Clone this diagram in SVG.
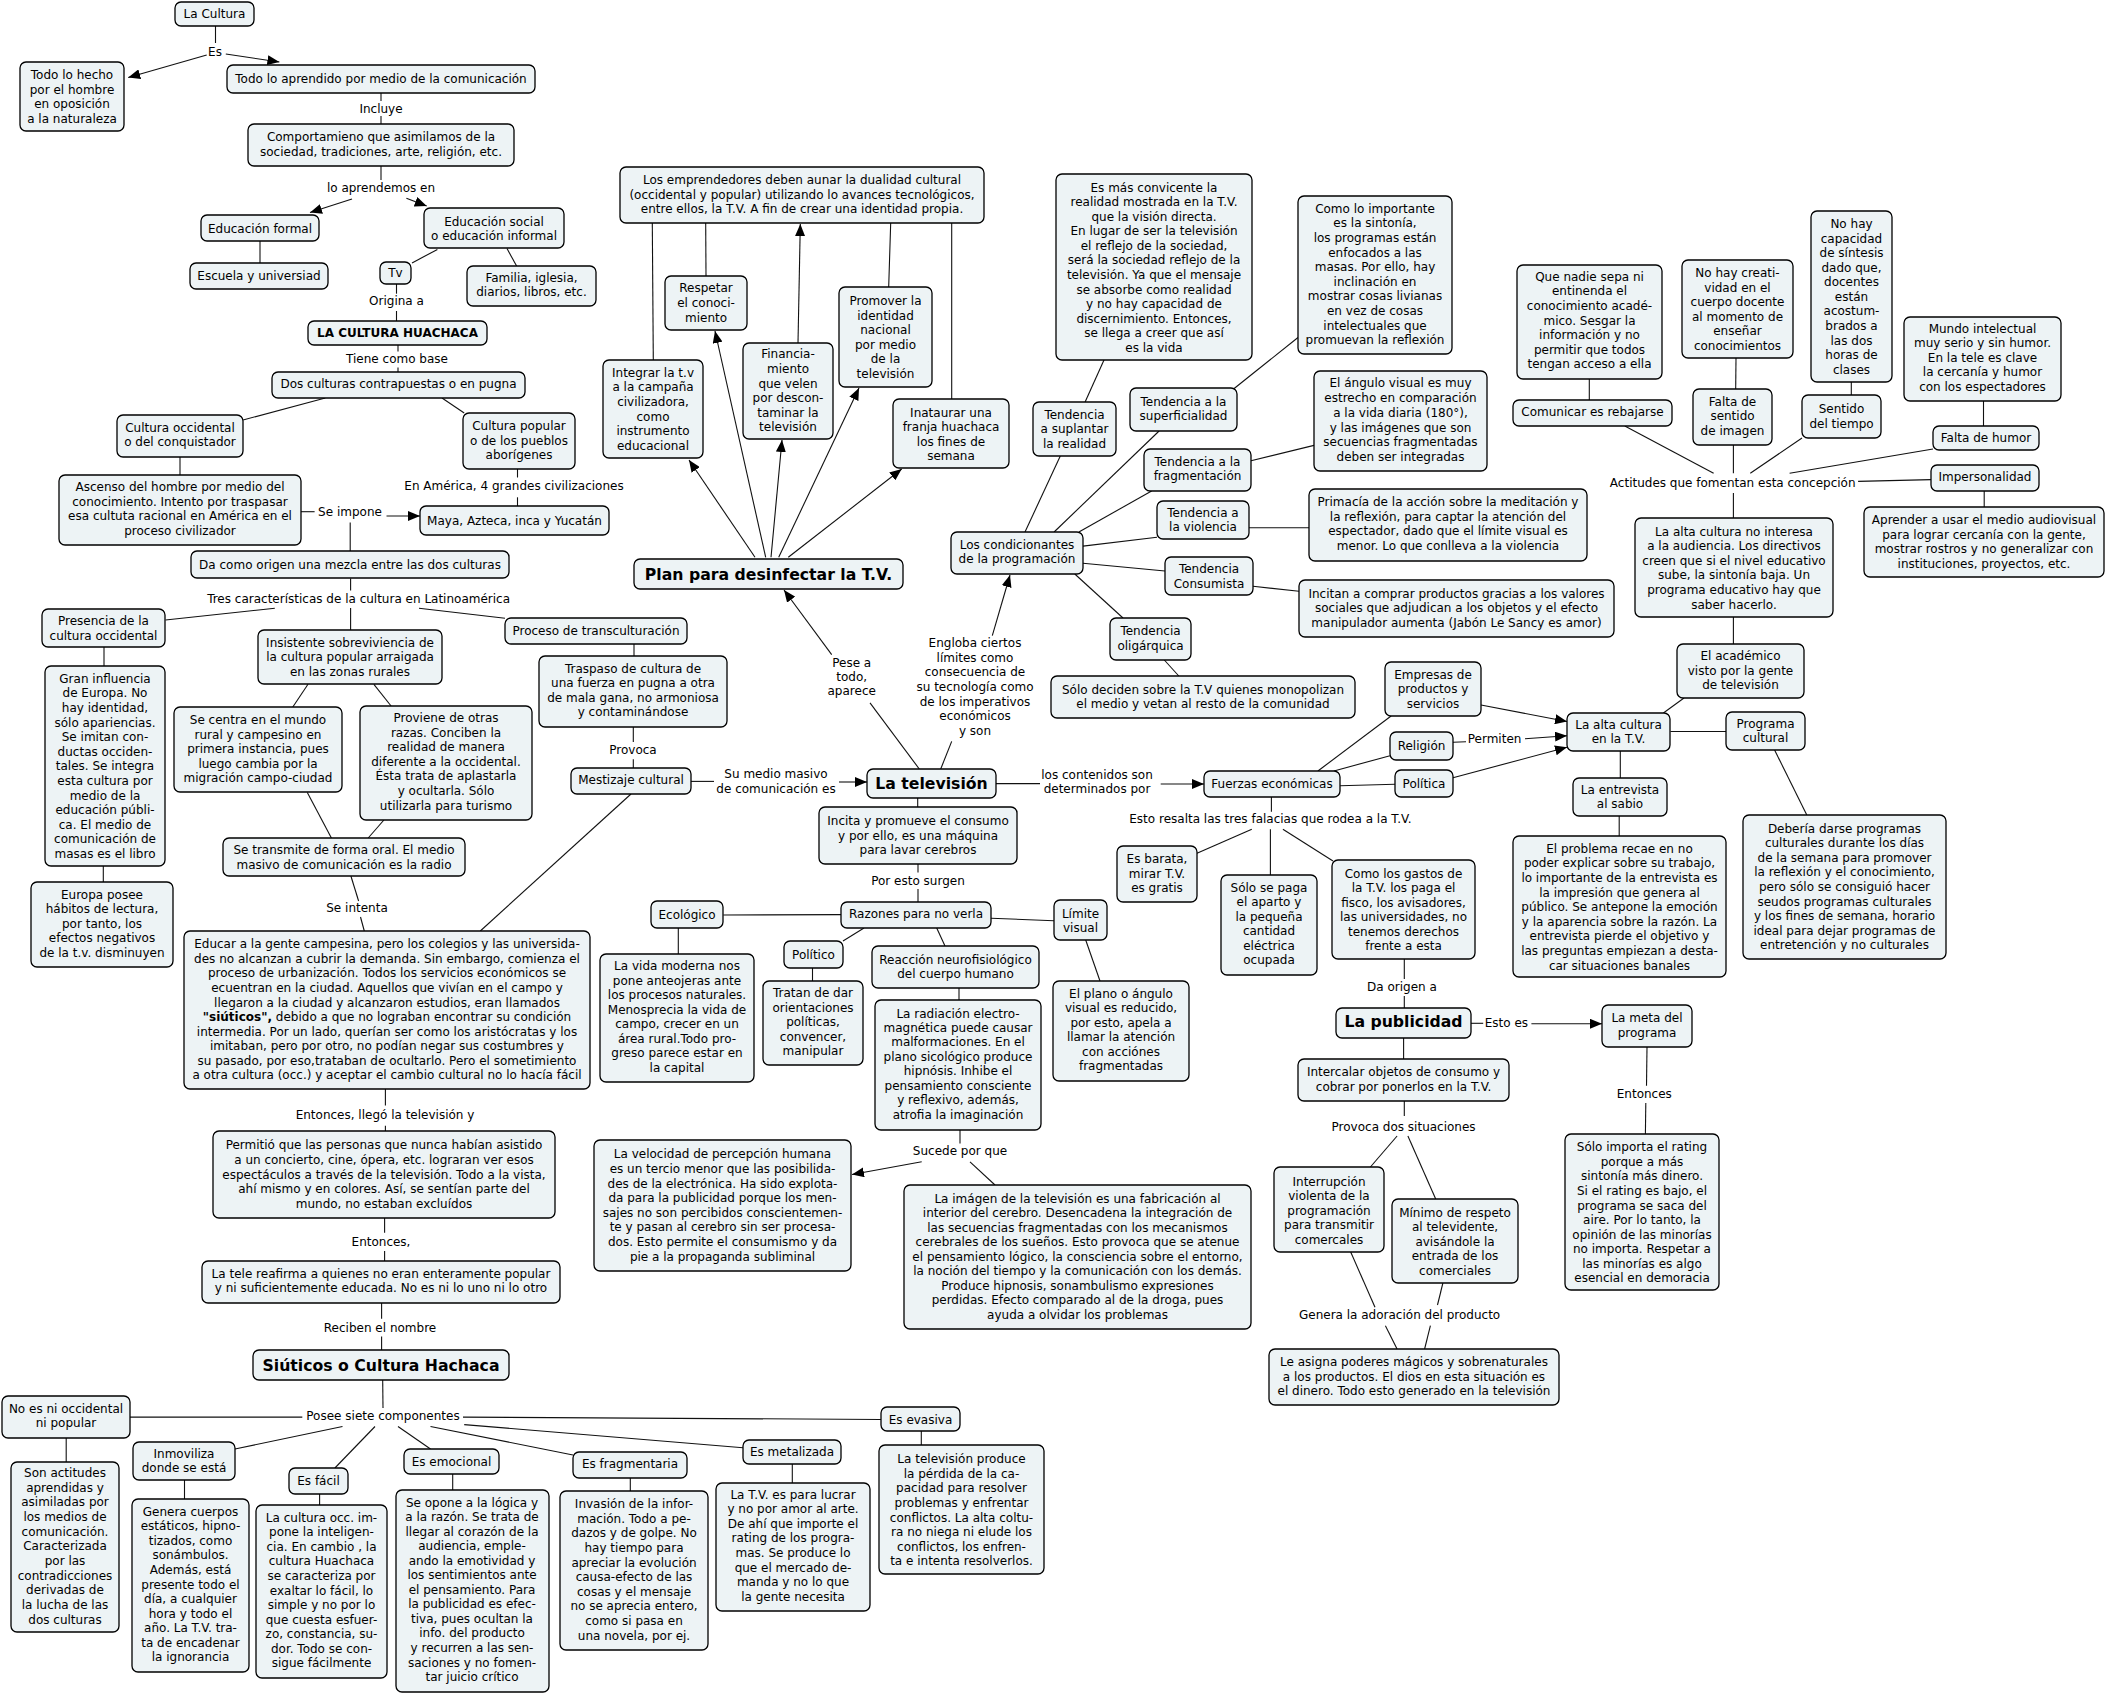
<svg xmlns="http://www.w3.org/2000/svg" width="2107" height="1694" viewBox="0 0 2107 1694">
<defs>
<style>
text{font-family:"DejaVu Sans",Verdana,sans-serif;font-size:12px;fill:#000;text-anchor:middle}
.n rect{fill:#edf3f5;stroke:#000;stroke-width:1.3}
.b{font-weight:bold;font-size:15.7px}
.b12{font-weight:bold}
#conn line{stroke:#111;stroke-width:1.1;fill:none}
#conn line.a{marker-end:url(#ah)}
</style>
<marker id="ah" viewBox="0 0 12 10" refX="12" refY="5" markerWidth="12" markerHeight="10" markerUnits="userSpaceOnUse" orient="auto"><path d="M0,0 L12,5 L0,10 z" fill="#000"/></marker>
</defs>
<rect width="2107" height="1694" fill="#fff"/>
<g id="conn">
<line x1="215.5" y1="26" x2="215.5" y2="43"/>
<line class="a" x1="206.7" y1="55" x2="128.2" y2="77.5"/>
<line class="a" x1="225.8" y1="54" x2="279.4" y2="62"/>
<line x1="381" y1="93" x2="381" y2="101"/><line x1="381" y1="116" x2="381" y2="124"/>
<line x1="381" y1="166" x2="381" y2="180"/>
<line class="a" x1="352" y1="198.9" x2="310" y2="212.6"/>
<line class="a" x1="406.4" y1="198.2" x2="426.7" y2="206.1"/>
<line x1="260" y1="241" x2="260" y2="263"/>
<line x1="437.4" y1="249.4" x2="412" y2="263"/>
<line x1="507" y1="248.6" x2="516.6" y2="266"/>
<line x1="396.5" y1="284" x2="396.5" y2="293.7"/><line x1="396.5" y1="311" x2="396.5" y2="321"/>
<line x1="398" y1="345" x2="398" y2="351.4"/><line x1="398" y1="367.6" x2="398" y2="372"/>
<line x1="325.3" y1="398" x2="243" y2="420"/>
<line x1="442" y1="398" x2="464.2" y2="413"/>
<line x1="180" y1="457" x2="180" y2="475"/>
<line x1="517.5" y1="469" x2="517.5" y2="477.5"/><line x1="517.5" y1="497.3" x2="517.5" y2="506"/>
<line x1="301" y1="511.7" x2="314.6" y2="511.7"/>
<line class="a" x1="386.5" y1="516" x2="420" y2="516"/>
<line x1="350.2" y1="522.5" x2="350.2" y2="551"/>
<line x1="350.6" y1="578.6" x2="350.6" y2="590.4"/><line x1="350.6" y1="608" x2="350.6" y2="630"/>
<line x1="274.8" y1="608.2" x2="165.5" y2="620"/>
<line x1="419" y1="608.2" x2="505" y2="618.2"/>
<line x1="104" y1="647" x2="104" y2="666"/>
<line x1="103.3" y1="866" x2="103.3" y2="882"/>
<line x1="308" y1="684.3" x2="292.8" y2="707"/>
<line x1="373.9" y1="684.3" x2="391.1" y2="706"/>
<line x1="307.3" y1="792.5" x2="331.4" y2="838"/>
<line x1="383.9" y1="820" x2="368.2" y2="838"/>
<line x1="350.9" y1="876" x2="358.6" y2="901"/><line x1="360.5" y1="917" x2="364.3" y2="931"/>
<line x1="634" y1="644" x2="634" y2="656"/>
<line x1="633.3" y1="727" x2="633.3" y2="742"/><line x1="633.3" y1="759.3" x2="633.3" y2="768"/>
<line x1="631" y1="794" x2="480.3" y2="931"/>
<line x1="691" y1="781.4" x2="714" y2="781.4"/>
<line class="a" x1="839" y1="782" x2="867" y2="782"/>
<line class="a" x1="831.7" y1="654.6" x2="784" y2="590"/>
<line x1="870" y1="702.9" x2="919.3" y2="769"/>
<line x1="940.7" y1="769" x2="951.7" y2="741.4"/>
<line class="a" x1="992.3" y1="635.7" x2="1010" y2="575"/>
<line x1="996" y1="783.6" x2="1040" y2="783.6"/>
<line class="a" x1="1160.7" y1="784" x2="1204" y2="784"/>
<line x1="917.7" y1="798" x2="917.7" y2="807"/>
<line x1="918" y1="864" x2="918" y2="872.5"/><line x1="918" y1="889" x2="918" y2="902"/>
<line x1="723.3" y1="915" x2="841" y2="914.6"/>
<line x1="678.3" y1="928" x2="678.3" y2="954"/>
<line x1="864" y1="928" x2="843" y2="941"/>
<line x1="812.5" y1="968" x2="812.5" y2="981"/>
<line x1="936.7" y1="928" x2="945" y2="946"/>
<line x1="959" y1="988" x2="959" y2="1000"/>
<line x1="991" y1="918.2" x2="1054" y2="920.7"/>
<line x1="1085.7" y1="940" x2="1100" y2="981"/>
<line x1="960" y1="1130" x2="960" y2="1143.4"/>
<line class="a" x1="921.7" y1="1161.8" x2="852" y2="1174.5"/>
<line x1="970" y1="1161.8" x2="995" y2="1185"/>
<line x1="385.4" y1="1089" x2="385.4" y2="1105.5"/><line x1="385.4" y1="1125.8" x2="385.4" y2="1131"/>
<line x1="384.6" y1="1218" x2="384.6" y2="1232.7"/><line x1="384.6" y1="1251" x2="384.6" y2="1261"/>
<line x1="381.6" y1="1303" x2="381.6" y2="1318.8"/><line x1="381.6" y1="1336.5" x2="381.6" y2="1350"/>
<line x1="382.7" y1="1380" x2="383" y2="1408"/>
<line x1="302.3" y1="1417.1" x2="130" y2="1417.1"/>
<line x1="463" y1="1417.1" x2="881" y2="1419.5"/>
<line x1="464.2" y1="1424.6" x2="743" y2="1447.8"/>
<line x1="430.5" y1="1426.5" x2="573" y2="1455"/>
<line x1="398" y1="1426.5" x2="430.5" y2="1449"/>
<line x1="375" y1="1426.5" x2="334.9" y2="1468"/>
<line x1="342.5" y1="1426.5" x2="235" y2="1449"/>
<line x1="66.2" y1="1438" x2="66.2" y2="1462"/>
<line x1="184.5" y1="1480" x2="184.5" y2="1499"/>
<line x1="319.6" y1="1494" x2="319.6" y2="1505"/>
<line x1="452.7" y1="1474" x2="452.7" y2="1490"/>
<line x1="630.3" y1="1478" x2="630.3" y2="1491"/>
<line x1="792.3" y1="1464" x2="792.3" y2="1483"/>
<line x1="921.3" y1="1431" x2="921.3" y2="1445"/>
<line class="a" x1="755" y1="557.3" x2="689" y2="460"/>
<line class="a" x1="765.7" y1="557.3" x2="715" y2="331"/>
<line class="a" x1="771" y1="557.3" x2="782" y2="440"/>
<line class="a" x1="778.7" y1="557.3" x2="859" y2="388"/>
<line class="a" x1="788.3" y1="557.3" x2="901.7" y2="469"/>
<line x1="652.3" y1="223" x2="653.3" y2="360"/>
<line x1="705.7" y1="223" x2="706" y2="276"/>
<line class="a" x1="798" y1="343" x2="800.3" y2="224"/>
<line x1="890.7" y1="223" x2="888.7" y2="287"/>
<line x1="951.7" y1="223" x2="951.7" y2="399"/>
<line x1="1104" y1="360" x2="1085.1" y2="402"/>
<line x1="1025" y1="532" x2="1060.3" y2="456"/>
<line x1="1054.1" y1="532" x2="1159.1" y2="431"/>
<line x1="1078.9" y1="532" x2="1151.6" y2="491"/>
<line x1="1083" y1="546.1" x2="1157" y2="537.3"/>
<line x1="1083" y1="563.3" x2="1165" y2="571"/>
<line x1="1074.8" y1="574" x2="1123" y2="618"/>
<line x1="1233.2" y1="389.2" x2="1298" y2="337.5"/>
<line x1="1251" y1="460.8" x2="1314" y2="445.4"/>
<line x1="1249" y1="527.7" x2="1309" y2="527.7"/>
<line x1="1253" y1="586.3" x2="1299" y2="591.3"/>
<line x1="1164.3" y1="660" x2="1178.8" y2="676"/>
<line x1="1317.9" y1="771" x2="1391.1" y2="716"/>
<line class="a" x1="1481" y1="705" x2="1567" y2="721.5"/>
<line x1="1333.9" y1="771" x2="1390" y2="755.7"/>
<line x1="1453" y1="742.3" x2="1466" y2="741.7"/>
<line class="a" x1="1525" y1="738.7" x2="1567" y2="735.7"/>
<line x1="1340" y1="785.7" x2="1395" y2="784.3"/>
<line class="a" x1="1453" y1="777.7" x2="1567" y2="747.3"/>
<line x1="1271.4" y1="797" x2="1271.4" y2="811.7"/>
<line x1="1251.8" y1="829.3" x2="1197" y2="853.3"/>
<line x1="1270.4" y1="829.3" x2="1270.4" y2="875"/>
<line x1="1282.9" y1="829.3" x2="1333" y2="861"/>
<line x1="1404.3" y1="959" x2="1404.3" y2="979"/><line x1="1404.3" y1="996" x2="1404.3" y2="1008"/>
<line x1="1471" y1="1023.3" x2="1483.2" y2="1023.3"/>
<line class="a" x1="1531.4" y1="1023.8" x2="1602" y2="1023.8"/>
<line x1="1403.6" y1="1038" x2="1403.6" y2="1059"/>
<line x1="1404.3" y1="1101" x2="1404.3" y2="1116"/>
<line x1="1397.1" y1="1136" x2="1370.4" y2="1167"/>
<line x1="1407.9" y1="1136" x2="1435.7" y2="1199"/>
<line x1="1350.7" y1="1252" x2="1375" y2="1307.3"/>
<line x1="1442.9" y1="1283" x2="1437.5" y2="1305"/>
<line x1="1385.4" y1="1325.7" x2="1397.1" y2="1349"/>
<line x1="1430.4" y1="1325.7" x2="1424.6" y2="1349"/>
<line x1="1589.3" y1="379" x2="1589.3" y2="400"/>
<line x1="1736" y1="358" x2="1735.7" y2="389"/>
<line x1="1851.3" y1="382" x2="1851.3" y2="395"/>
<line x1="1983.5" y1="401" x2="1983.5" y2="426"/>
<line x1="1713.6" y1="473.2" x2="1624.8" y2="426"/>
<line x1="1733.4" y1="473.2" x2="1733.4" y2="445"/>
<line x1="1750.3" y1="473.2" x2="1802" y2="438"/>
<line x1="1789.6" y1="473.2" x2="1933" y2="449"/>
<line x1="1858.1" y1="481.4" x2="1931" y2="479.6"/>
<line x1="1733.4" y1="492.9" x2="1733.4" y2="518"/>
<line x1="1984.2" y1="491" x2="1984.2" y2="507"/>
<line x1="1733.4" y1="617" x2="1733.4" y2="644"/>
<line x1="1684" y1="698" x2="1663.4" y2="713"/>
<line x1="1670.5" y1="731.5" x2="1726" y2="731.5"/>
<line x1="1620.3" y1="751" x2="1620.3" y2="778"/>
<line x1="1619.2" y1="816" x2="1619.2" y2="836"/>
<line x1="1774.6" y1="750" x2="1806.8" y2="815"/>
<line x1="1647" y1="1047" x2="1646.5" y2="1085.8"/><line x1="1645.8" y1="1103.1" x2="1645.4" y2="1134"/>
<g id="labels">
<text x="215" y="55.5">Es</text>
<text x="381" y="113">Incluye</text>
<text x="381" y="192">lo aprendemos en</text>
<text x="396.5" y="304.5">Origina a</text>
<text x="397" y="362.6">Tiene como base</text>
<text x="514" y="490">En América, 4 grandes civilizaciones</text>
<text x="350" y="515.7">Se impone</text>
<text x="358.6" y="603.3">Tres características de la cultura en Latinoamérica</text>
<text x="633" y="754.4">Provoca</text>
<text x="357" y="912.2">Se intenta</text>
<text x="385" y="1118.5">Entonces, llegó la televisión y</text>
<text x="381" y="1246.1">Entonces,</text>
<text x="380" y="1331.8">Reciben el nombre</text>
<text x="383" y="1419.6">Posee siete componentes</text>
<text x="776" y="778.3"><tspan x="776">Su medio masivo</tspan><tspan x="776" dy="14.3">de comunicación es</tspan></text>
<text x="851.7" y="666.9"><tspan x="851.7">Pese a</tspan><tspan x="851.7" dy="14.25">todo,</tspan><tspan x="851.7" dy="14.25">aparece</tspan></text>
<text x="975" y="647.2"><tspan x="975">Engloba ciertos</tspan><tspan x="975" dy="14.58">límites como</tspan><tspan x="975" dy="14.58">consecuencia de</tspan><tspan x="975" dy="14.58">su tecnología como</tspan><tspan x="975" dy="14.58">de los imperativos</tspan><tspan x="975" dy="14.58">económicos</tspan><tspan x="975" dy="14.58">y son</tspan></text>
<text x="918" y="884.7">Por esto surgen</text>
<text x="960" y="1154.5">Sucede por que</text>
<text x="1097" y="779"><tspan x="1097">los contenidos son</tspan><tspan x="1097" dy="14.3">determinados por</tspan></text>
<text x="1270.4" y="823">Esto resalta las tres falacias que rodea a la T.V.</text>
<text x="1494.6" y="743.3">Permiten</text>
<text x="1402" y="990.7">Da origen a</text>
<text x="1506.4" y="1027.3">Esto es</text>
<text x="1403.6" y="1131">Provoca dos situaciones</text>
<text x="1399.6" y="1319.3">Genera la adoración del producto</text>
<text x="1732.7" y="486.9">Actitudes que fomentan esta concepción</text>
<text x="1644.3" y="1098">Entonces</text>
</g>
</g>
<g id="nodes">
<g id="n1" class="n"><rect x="175" y="2" width="79" height="24" rx="6"/><text x="214.5" y="18">La Cultura</text></g>
<g id="n2" class="n"><rect x="20" y="62" width="104" height="69" rx="6"/><text x="72" y="79"><tspan x="72">Todo lo hecho</tspan><tspan x="72" dy="14.55">por el hombre</tspan><tspan x="72" dy="14.55">en oposición</tspan><tspan x="72" dy="14.55">a la naturaleza</tspan></text></g>
<g id="n3" class="n"><rect x="227" y="65" width="308" height="28" rx="6"/><text x="381" y="82.6">Todo lo aprendido por medio de la comunicación</text></g>
<g id="n4" class="n"><rect x="248" y="124" width="266" height="42" rx="6"/><text x="381" y="141"><tspan x="381">Comportamieno que asimilamos de la</tspan><tspan x="381" dy="14.55">sociedad, tradiciones, arte, religión, etc.</tspan></text></g>
<g id="n5" class="n"><rect x="201" y="215" width="118" height="26" rx="6"/><text x="260" y="232.5">Educación formal</text></g>
<g id="n6" class="n"><rect x="190" y="263" width="138" height="26" rx="6"/><text x="259" y="279.5">Escuela y universiad</text></g>
<g id="n7" class="n"><rect x="424" y="208" width="140" height="40" rx="6"/><text x="494" y="225.6"><tspan x="494">Educación social</tspan><tspan x="494" dy="14.55">o educación informal</tspan></text></g>
<g id="n8" class="n"><rect x="380" y="262" width="31" height="22" rx="6"/><text x="395.5" y="277">Tv</text></g>
<g id="n9" class="n"><rect x="467" y="266" width="129" height="40" rx="6"/><text x="531.5" y="281.8"><tspan x="531.5">Familia, iglesia,</tspan><tspan x="531.5" dy="14.55">diarios, libros, etc.</tspan></text></g>
<g id="n10" class="n"><rect x="308" y="321" width="179" height="24" rx="6"/><text class="b12" x="397.5" y="337.3">LA CULTURA HUACHACA</text></g>
<g id="n11" class="n"><rect x="272" y="372" width="253" height="26" rx="6"/><text x="398.5" y="388.1">Dos culturas contrapuestas o en pugna</text></g>
<g id="n12" class="n"><rect x="117" y="415" width="126" height="42" rx="6"/><text x="180" y="431.7"><tspan x="180">Cultura occidental</tspan><tspan x="180" dy="14.55">o del conquistador</tspan></text></g>
<g id="n13" class="n"><rect x="463" y="413" width="112" height="56" rx="6"/><text x="519" y="430"><tspan x="519">Cultura popular</tspan><tspan x="519" dy="14.55">o de los pueblos</tspan><tspan x="519" dy="14.55">aborígenes</tspan></text></g>
<g id="n14" class="n"><rect x="59" y="475" width="242" height="70" rx="6"/><text x="180" y="491.2"><tspan x="180">Ascenso del hombre por medio del</tspan><tspan x="180" dy="14.55">conocimiento. Intento por traspasar</tspan><tspan x="180" dy="14.55">esa cultuta racional en América en el</tspan><tspan x="180" dy="14.55">proceso civilizador</tspan></text></g>
<g id="n15" class="n"><rect x="420" y="506" width="189" height="29" rx="6"/><text x="514.5" y="524.5">Maya, Azteca, inca y Yucatán</text></g>
<g id="n16" class="n"><rect x="191" y="551" width="318" height="27" rx="6"/><text x="350" y="569">Da como origen una mezcla entre las dos culturas</text></g>
<g id="n17" class="n"><rect x="42" y="609" width="123" height="38" rx="6"/><text x="103.5" y="625"><tspan x="103.5">Presencia de la</tspan><tspan x="103.5" dy="14.55">cultura occidental</tspan></text></g>
<g id="n18" class="n"><rect x="505" y="618" width="182" height="26" rx="6"/><text x="596" y="635.4">Proceso de transculturación</text></g>
<g id="n19" class="n"><rect x="539" y="656" width="188" height="71" rx="6"/><text x="633" y="672.6"><tspan x="633">Traspaso de cultura de</tspan><tspan x="633" dy="14.55">una fuerza en pugna a otra</tspan><tspan x="633" dy="14.55">de mala gana, no armoniosa</tspan><tspan x="633" dy="14.55">y contaminándose</tspan></text></g>
<g id="n20" class="n"><rect x="258" y="630" width="184" height="54" rx="6"/><text x="350" y="646.9"><tspan x="350">Insistente sobreviviencia de</tspan><tspan x="350" dy="14.55">la cultura popular arraigada</tspan><tspan x="350" dy="14.55">en las zonas rurales</tspan></text></g>
<g id="n21" class="n"><rect x="45" y="666" width="120" height="200" rx="6"/><text x="105" y="682.9"><tspan x="105">Gran influencia</tspan><tspan x="105" dy="14.58">de Europa. No</tspan><tspan x="105" dy="14.58">hay identidad,</tspan><tspan x="105" dy="14.58">sólo apariencias.</tspan><tspan x="105" dy="14.58">Se imitan con-</tspan><tspan x="105" dy="14.58">ductas occiden-</tspan><tspan x="105" dy="14.58">tales. Se integra</tspan><tspan x="105" dy="14.58">esta cultura por</tspan><tspan x="105" dy="14.58">medio de la</tspan><tspan x="105" dy="14.58">educación públi-</tspan><tspan x="105" dy="14.58">ca. El medio de</tspan><tspan x="105" dy="14.58">comunicación de</tspan><tspan x="105" dy="14.58">masas es el libro</tspan></text></g>
<g id="n22" class="n"><rect x="31" y="882" width="142" height="85" rx="6"/><text x="102" y="898.6"><tspan x="102">Europa posee</tspan><tspan x="102" dy="14.58">hábitos de lectura,</tspan><tspan x="102" dy="14.58">por tanto, los</tspan><tspan x="102" dy="14.58">efectos negativos</tspan><tspan x="102" dy="14.58">de la t.v. disminuyen</tspan></text></g>
<g id="n23" class="n"><rect x="174" y="707" width="168" height="85" rx="6"/><text x="258" y="724"><tspan x="258">Se centra en el mundo</tspan><tspan x="258" dy="14.55">rural y campesino en</tspan><tspan x="258" dy="14.55">primera instancia, pues</tspan><tspan x="258" dy="14.55">luego cambia por la</tspan><tspan x="258" dy="14.55">migración campo-ciudad</tspan></text></g>
<g id="n24" class="n"><rect x="360" y="706" width="172" height="114" rx="6"/><text x="446" y="721.9"><tspan x="446">Proviene de otras</tspan><tspan x="446" dy="14.6">razas. Conciben la</tspan><tspan x="446" dy="14.6">realidad de manera</tspan><tspan x="446" dy="14.6">diferente a la occidental.</tspan><tspan x="446" dy="14.6">Ésta trata de aplastarla</tspan><tspan x="446" dy="14.6">y ocultarla. Sólo</tspan><tspan x="446" dy="14.6">utilizarla para turismo</tspan></text></g>
<g id="n25" class="n"><rect x="223" y="838" width="242" height="38" rx="6"/><text x="344" y="854"><tspan x="344">Se transmite de forma oral. El medio</tspan><tspan x="344" dy="14.55">masivo de comunicación es la radio</tspan></text></g>
<g id="n26" class="n"><rect x="184" y="931" width="406" height="158" rx="6"/><text x="387" y="948.3"><tspan x="387">Educar a la gente campesina, pero los colegios y las universida-</tspan><tspan x="387" dy="14.56">des no alcanzan a cubrir la demanda. Sin embargo, comienza el</tspan><tspan x="387" dy="14.56">proceso de urbanización. Todos los servicios económicos se</tspan><tspan x="387" dy="14.56">ecuentran en la ciudad. Aquellos que vivían en el campo y</tspan><tspan x="387" dy="14.56">llegaron a la ciudad y alcanzaron estudios, eran llamados</tspan><tspan x="387" dy="14.56"><tspan font-weight="bold">"siúticos",</tspan> debido a que no lograban encontrar su condición</tspan><tspan x="387" dy="14.56">intermedia. Por un lado, querían ser como los aristócratas y los</tspan><tspan x="387" dy="14.56">imitaban, pero por otro, no podían negar sus costumbres y</tspan><tspan x="387" dy="14.56">su pasado, por eso,trataban de ocultarlo. Pero el sometimiento</tspan><tspan x="387" dy="14.56">a otra cultura (occ.) y aceptar el cambio cultural no lo hacía fácil</tspan></text></g>
<g id="n27" class="n"><rect x="213" y="1131" width="342" height="87" rx="6"/><text x="384" y="1149.4"><tspan x="384">Permitió que las personas que nunca habían asistido</tspan><tspan x="384" dy="14.55">a un concierto, cine, ópera, etc. lograran ver esos</tspan><tspan x="384" dy="14.55">espectáculos a través de la televisión. Todo a la vista,</tspan><tspan x="384" dy="14.55">ahí mismo y en colores. Así, se sentían parte del</tspan><tspan x="384" dy="14.55">mundo, no estaban excluídos</tspan></text></g>
<g id="n28" class="n"><rect x="202" y="1261" width="358" height="42" rx="6"/><text x="381" y="1277.8"><tspan x="381">La tele reafirma a quienes no eran enteramente popular</tspan><tspan x="381" dy="14.55">y ni suficientemente educada. No es ni lo uno ni lo otro</tspan></text></g>
<g id="n29" class="n"><rect x="253" y="1350" width="256" height="30" rx="6"/><text class="b" x="381" y="1371">Siúticos o Cultura Hachaca</text></g>
<g id="n30" class="n"><rect x="2" y="1396" width="128" height="42" rx="6"/><text x="66" y="1412.5"><tspan x="66">No es ni occidental</tspan><tspan x="66" dy="14.55">ni popular</tspan></text></g>
<g id="n31" class="n"><rect x="11" y="1462" width="108" height="170" rx="6"/><text x="65" y="1477.1"><tspan x="65">Son actitudes</tspan><tspan x="65" dy="14.65">aprendidas y</tspan><tspan x="65" dy="14.65">asimiladas por</tspan><tspan x="65" dy="14.65">los medios de</tspan><tspan x="65" dy="14.65">comunicación.</tspan><tspan x="65" dy="14.65">Caracterizada</tspan><tspan x="65" dy="14.65">por las</tspan><tspan x="65" dy="14.65">contradicciones</tspan><tspan x="65" dy="14.65">derivadas de</tspan><tspan x="65" dy="14.65">la lucha de las</tspan><tspan x="65" dy="14.65">dos culturas</tspan></text></g>
<g id="n32" class="n"><rect x="133" y="1442" width="102" height="38" rx="6"/><text x="184" y="1458.3"><tspan x="184">Inmoviliza</tspan><tspan x="184" dy="14.1">donde se está</tspan></text></g>
<g id="n33" class="n"><rect x="132" y="1499" width="117" height="173" rx="6"/><text x="190.5" y="1515.9"><tspan x="190.5">Genera cuerpos</tspan><tspan x="190.5" dy="14.52">estáticos, hipno-</tspan><tspan x="190.5" dy="14.52">tizados, como</tspan><tspan x="190.5" dy="14.52">sonámbulos.</tspan><tspan x="190.5" dy="14.52">Además, está</tspan><tspan x="190.5" dy="14.52">presente todo el</tspan><tspan x="190.5" dy="14.52">día, a cualquier</tspan><tspan x="190.5" dy="14.52">hora y todo el</tspan><tspan x="190.5" dy="14.52">año. La T.V. tra-</tspan><tspan x="190.5" dy="14.52">ta de encadenar</tspan><tspan x="190.5" dy="14.52">la ignorancia</tspan></text></g>
<g id="n34" class="n"><rect x="289" y="1468" width="59" height="26" rx="6"/><text x="318.5" y="1485.3">Es fácil</text></g>
<g id="n35" class="n"><rect x="256" y="1505" width="131" height="173" rx="6"/><text x="321.5" y="1521.7"><tspan x="321.5">La cultura occ. im-</tspan><tspan x="321.5" dy="14.57">pone la inteligen-</tspan><tspan x="321.5" dy="14.57">cia. En cambio , la</tspan><tspan x="321.5" dy="14.57">cultura Huachaca</tspan><tspan x="321.5" dy="14.57">se caracteriza por</tspan><tspan x="321.5" dy="14.57">exaltar lo fácil, lo</tspan><tspan x="321.5" dy="14.57">simple y no por lo</tspan><tspan x="321.5" dy="14.57">que cuesta esfuer-</tspan><tspan x="321.5" dy="14.57">zo, constancia, su-</tspan><tspan x="321.5" dy="14.57">dor. Todo se con-</tspan><tspan x="321.5" dy="14.57">sigue fácilmente</tspan></text></g>
<g id="n36" class="n"><rect x="404" y="1449" width="95" height="25" rx="6"/><text x="451.5" y="1465.8">Es emocional</text></g>
<g id="n37" class="n"><rect x="396" y="1490" width="153" height="202" rx="6"/><text x="472" y="1506.5"><tspan x="472">Se opone a la lógica y</tspan><tspan x="472" dy="14.55">a la razón. Se trata de</tspan><tspan x="472" dy="14.55">llegar al corazón de la</tspan><tspan x="472" dy="14.55">audiencia, emple-</tspan><tspan x="472" dy="14.55">ando la emotividad y</tspan><tspan x="472" dy="14.55">los sentimientos ante</tspan><tspan x="472" dy="14.55">el pensamiento. Para</tspan><tspan x="472" dy="14.55">la publicidad es efec-</tspan><tspan x="472" dy="14.55">tiva, pues ocultan la</tspan><tspan x="472" dy="14.55">info. del producto</tspan><tspan x="472" dy="14.55">y recurren a las sen-</tspan><tspan x="472" dy="14.55">saciones y no fomen-</tspan><tspan x="472" dy="14.55">tar juicio crítico</tspan></text></g>
<g id="n38" class="n"><rect x="573" y="1452" width="114" height="26" rx="6"/><text x="630" y="1467.7">Es fragmentaria</text></g>
<g id="n39" class="n"><rect x="560" y="1491" width="148" height="159" rx="6"/><text x="634" y="1508.1"><tspan x="634">Invasión de la infor-</tspan><tspan x="634" dy="14.6">mación. Todo a pe-</tspan><tspan x="634" dy="14.6">dazos y de golpe. No</tspan><tspan x="634" dy="14.6">hay tiempo para</tspan><tspan x="634" dy="14.6">apreciar la evolución</tspan><tspan x="634" dy="14.6">causa-efecto de las</tspan><tspan x="634" dy="14.6">cosas y el mensaje</tspan><tspan x="634" dy="14.6">no se aprecia entero,</tspan><tspan x="634" dy="14.6">como si pasa en</tspan><tspan x="634" dy="14.6">una novela, por ej.</tspan></text></g>
<g id="n40" class="n"><rect x="743" y="1440" width="98" height="24" rx="6"/><text x="792" y="1455.6">Es metalizada</text></g>
<g id="n41" class="n"><rect x="716" y="1483" width="154" height="128" rx="6"/><text x="793" y="1498.5"><tspan x="793">La T.V. es para lucrar</tspan><tspan x="793" dy="14.6">y no por amor al arte.</tspan><tspan x="793" dy="14.6">De ahí que importe el</tspan><tspan x="793" dy="14.6">rating de los progra-</tspan><tspan x="793" dy="14.6">mas. Se produce lo</tspan><tspan x="793" dy="14.6">que el mercado de-</tspan><tspan x="793" dy="14.6">manda y no lo que</tspan><tspan x="793" dy="14.6">la gente necesita</tspan></text></g>
<g id="n42" class="n"><rect x="881" y="1407" width="79" height="24" rx="6"/><text x="920.5" y="1423.5">Es evasiva</text></g>
<g id="n43" class="n"><rect x="879" y="1445" width="165" height="129" rx="6"/><text x="961.5" y="1463.1"><tspan x="961.5">La televisión produce</tspan><tspan x="961.5" dy="14.6">la pérdida de la ca-</tspan><tspan x="961.5" dy="14.6">pacidad para resolver</tspan><tspan x="961.5" dy="14.6">problemas y enfrentar</tspan><tspan x="961.5" dy="14.6">conflictos. La alta coltu-</tspan><tspan x="961.5" dy="14.6">ra no niega ni elude los</tspan><tspan x="961.5" dy="14.6">conflictos, los enfren-</tspan><tspan x="961.5" dy="14.6">ta e intenta resolverlos.</tspan></text></g>
<g id="n44" class="n"><rect x="594" y="1140" width="257" height="131" rx="6"/><text x="722.5" y="1158.3"><tspan x="722.5">La velocidad  de percepción humana</tspan><tspan x="722.5" dy="14.6">es un tercio menor que las posibilida-</tspan><tspan x="722.5" dy="14.6">des de la electrónica. Ha sido explota-</tspan><tspan x="722.5" dy="14.6">da para la publicidad porque los men-</tspan><tspan x="722.5" dy="14.6">sajes no son percibidos conscientemen-</tspan><tspan x="722.5" dy="14.6">te y pasan al cerebro sin ser procesa-</tspan><tspan x="722.5" dy="14.6">dos. Esto permite el consumismo y da</tspan><tspan x="722.5" dy="14.6">pie a la propaganda subliminal</tspan></text></g>
<g id="n45" class="n"><rect x="904" y="1185" width="347" height="144" rx="6"/><text x="1077.5" y="1202.5"><tspan x="1077.5">La imágen de la televisión es una fabricación al</tspan><tspan x="1077.5" dy="14.54">interior del cerebro. Desencadena la integración de</tspan><tspan x="1077.5" dy="14.54">las secuencias fragmentadas con los mecanismos</tspan><tspan x="1077.5" dy="14.54">cerebrales de los sueños. Esto provoca que se atenue</tspan><tspan x="1077.5" dy="14.54">el pensamiento lógico, la consciencia sobre el entorno,</tspan><tspan x="1077.5" dy="14.54">la noción del tiempo y la comunicación con los demás.</tspan><tspan x="1077.5" dy="14.54">Produce hipnosis, sonambulismo  expresiones</tspan><tspan x="1077.5" dy="14.54">perdidas. Efecto comparado al  de la droga, pues</tspan><tspan x="1077.5" dy="14.54">ayuda a olvidar los problemas</tspan></text></g>
<g id="n46" class="n"><rect x="634" y="559" width="269" height="30" rx="6"/><text class="b" x="768.5" y="579.5">Plan para desinfectar la T.V.</text></g>
<g id="n47" class="n"><rect x="867" y="769" width="129" height="29" rx="6"/><text class="b" x="931.5" y="788.7">La televisión</text></g>
<g id="n48" class="n"><rect x="571" y="768" width="120" height="26" rx="6"/><text x="631" y="783.6">Mestizaje cultural</text></g>
<g id="n49" class="n"><rect x="819" y="807" width="198" height="57" rx="6"/><text x="918" y="825.4"><tspan x="918">Incita y promueve el consumo</tspan><tspan x="918" dy="14.3">y por ello, es una máquina</tspan><tspan x="918" dy="14.3">para lavar cerebros</tspan></text></g>
<g id="n50" class="n"><rect x="841" y="902" width="150" height="26" rx="6"/><text x="916" y="918.3">Razones para no verla</text></g>
<g id="n51" class="n"><rect x="651" y="901" width="72" height="27" rx="6"/><text x="687" y="918.6">Ecológico</text></g>
<g id="n52" class="n"><rect x="600" y="954" width="154" height="128" rx="6"/><text x="677" y="970.1"><tspan x="677">La vida moderna nos</tspan><tspan x="677" dy="14.55">pone anteojeras ante</tspan><tspan x="677" dy="14.55">los procesos naturales.</tspan><tspan x="677" dy="14.55">Menosprecia la vida de</tspan><tspan x="677" dy="14.55">campo, crecer en un</tspan><tspan x="677" dy="14.55">área rural.Todo pro-</tspan><tspan x="677" dy="14.55">greso parece estar en</tspan><tspan x="677" dy="14.55">la capital</tspan></text></g>
<g id="n53" class="n"><rect x="784" y="941" width="59" height="27" rx="6"/><text x="813.5" y="959.4">Político</text></g>
<g id="n54" class="n"><rect x="763" y="981" width="100" height="84" rx="6"/><text x="813" y="997.2"><tspan x="813">Tratan de dar</tspan><tspan x="813" dy="14.55">orientaciones</tspan><tspan x="813" dy="14.55">políticas,</tspan><tspan x="813" dy="14.55">convencer,</tspan><tspan x="813" dy="14.55">manipular</tspan></text></g>
<g id="n55" class="n"><rect x="872" y="946" width="167" height="42" rx="6"/><text x="955.5" y="963.6"><tspan x="955.5">Reacción neurofisiológico</tspan><tspan x="955.5" dy="14.6">del cuerpo humano</tspan></text></g>
<g id="n56" class="n"><rect x="875" y="1000" width="166" height="130" rx="6"/><text x="958" y="1017.6"><tspan x="958">La radiación electro-</tspan><tspan x="958" dy="14.43">magnética puede causar</tspan><tspan x="958" dy="14.43">malformaciones. En el</tspan><tspan x="958" dy="14.43">plano sicológico produce</tspan><tspan x="958" dy="14.43">hipnósis. Inhibe el</tspan><tspan x="958" dy="14.43">pensamiento consciente</tspan><tspan x="958" dy="14.43">y reflexivo, además,</tspan><tspan x="958" dy="14.43">atrofia la imaginación</tspan></text></g>
<g id="n57" class="n"><rect x="1054" y="900" width="53" height="40" rx="6"/><text x="1080.5" y="918"><tspan x="1080.5">Límite</tspan><tspan x="1080.5" dy="14">visual</tspan></text></g>
<g id="n58" class="n"><rect x="1053" y="981" width="136" height="100" rx="6"/><text x="1121" y="998"><tspan x="1121">El plano o ángulo</tspan><tspan x="1121" dy="14.46">visual es reducido,</tspan><tspan x="1121" dy="14.46">por esto, apela a</tspan><tspan x="1121" dy="14.46">llamar la atención</tspan><tspan x="1121" dy="14.46">con acciónes</tspan><tspan x="1121" dy="14.46">fragmentadas</tspan></text></g>
<g id="n59" class="n"><rect x="620" y="167" width="364" height="56" rx="6"/><text x="802" y="184"><tspan x="802">Los emprendedores deben aunar la dualidad cultural</tspan><tspan x="802" dy="14.5">(occidental y popular) utilizando lo avances tecnológicos,</tspan><tspan x="802" dy="14.5">entre ellos, la T.V. A fin de crear una identidad propia.</tspan></text></g>
<g id="n60" class="n"><rect x="665" y="276" width="82" height="54" rx="6"/><text x="706" y="292.3"><tspan x="706">Respetar</tspan><tspan x="706" dy="14.7">el conoci-</tspan><tspan x="706" dy="14.7">miento</tspan></text></g>
<g id="n61" class="n"><rect x="603" y="360" width="100" height="98" rx="6"/><text x="653" y="376.7"><tspan x="653">Integrar la t.v</tspan><tspan x="653" dy="14.6">a la campaña</tspan><tspan x="653" dy="14.6">civilizadora,</tspan><tspan x="653" dy="14.6">como</tspan><tspan x="653" dy="14.6">instrumento</tspan><tspan x="653" dy="14.6">educacional</tspan></text></g>
<g id="n62" class="n"><rect x="743" y="343" width="90" height="96" rx="6"/><text x="788" y="358.3"><tspan x="788">Financia-</tspan><tspan x="788" dy="14.6">miento</tspan><tspan x="788" dy="14.6">que velen</tspan><tspan x="788" dy="14.6">por descon-</tspan><tspan x="788" dy="14.6">taminar la</tspan><tspan x="788" dy="14.6">televisión</tspan></text></g>
<g id="n63" class="n"><rect x="839" y="287" width="93" height="100" rx="6"/><text x="885.5" y="305"><tspan x="885.5">Promover la</tspan><tspan x="885.5" dy="14.6">identidad</tspan><tspan x="885.5" dy="14.6">nacional</tspan><tspan x="885.5" dy="14.6">por medio</tspan><tspan x="885.5" dy="14.6">de la</tspan><tspan x="885.5" dy="14.6">televisión</tspan></text></g>
<g id="n64" class="n"><rect x="893" y="399" width="116" height="69" rx="6"/><text x="951" y="417"><tspan x="951">Inataurar una</tspan><tspan x="951" dy="14.45">franja huachaca</tspan><tspan x="951" dy="14.45">los fines de</tspan><tspan x="951" dy="14.45">semana</tspan></text></g>
<g id="n65" class="n"><rect x="1056" y="174" width="196" height="186" rx="6"/><text x="1154" y="191.5"><tspan x="1154">Es más convicente la</tspan><tspan x="1154" dy="14.58">realidad mostrada  en la T.V.</tspan><tspan x="1154" dy="14.58">que la visión directa.</tspan><tspan x="1154" dy="14.58">En lugar de ser la televisión</tspan><tspan x="1154" dy="14.58">el reflejo de la sociedad,</tspan><tspan x="1154" dy="14.58">será la sociedad reflejo de la</tspan><tspan x="1154" dy="14.58">televisión. Ya que el mensaje</tspan><tspan x="1154" dy="14.58">se absorbe como realidad</tspan><tspan x="1154" dy="14.58">y no hay capacidad de</tspan><tspan x="1154" dy="14.58">discernimiento. Entonces,</tspan><tspan x="1154" dy="14.58">se llega a creer que así</tspan><tspan x="1154" dy="14.58">es la vida</tspan></text></g>
<g id="n66" class="n"><rect x="1033" y="402" width="83" height="54" rx="6"/><text x="1074.5" y="418.8"><tspan x="1074.5">Tendencia</tspan><tspan x="1074.5" dy="14.55">a suplantar</tspan><tspan x="1074.5" dy="14.55">la realidad</tspan></text></g>
<g id="n67" class="n"><rect x="1130" y="388" width="107" height="43" rx="6"/><text x="1183.5" y="405.8"><tspan x="1183.5">Tendencia a la</tspan><tspan x="1183.5" dy="14.6">superficialidad</tspan></text></g>
<g id="n68" class="n"><rect x="1298" y="196" width="154" height="158" rx="6"/><text x="1375" y="212.9"><tspan x="1375">Como lo importante</tspan><tspan x="1375" dy="14.59">es la sintonía,</tspan><tspan x="1375" dy="14.59">los programas están</tspan><tspan x="1375" dy="14.59">enfocados a las</tspan><tspan x="1375" dy="14.59">masas. Por ello, hay</tspan><tspan x="1375" dy="14.59">inclinación en</tspan><tspan x="1375" dy="14.59">mostrar cosas livianas</tspan><tspan x="1375" dy="14.59">en vez de cosas</tspan><tspan x="1375" dy="14.59">intelectuales que</tspan><tspan x="1375" dy="14.59">promuevan la reflexión</tspan></text></g>
<g id="n69" class="n"><rect x="1144" y="449" width="107" height="42" rx="6"/><text x="1197.5" y="465.9"><tspan x="1197.5">Tendencia a la</tspan><tspan x="1197.5" dy="14.5">fragmentación</tspan></text></g>
<g id="n70" class="n"><rect x="1314" y="371" width="173" height="100" rx="6"/><text x="1400.5" y="387.4"><tspan x="1400.5">El ángulo visual es muy</tspan><tspan x="1400.5" dy="14.7">estrecho en comparación</tspan><tspan x="1400.5" dy="14.7">a la vida diaria (180°),</tspan><tspan x="1400.5" dy="14.7">y las imágenes que son</tspan><tspan x="1400.5" dy="14.7">secuencias fragmentadas</tspan><tspan x="1400.5" dy="14.7">deben ser integradas</tspan></text></g>
<g id="n71" class="n"><rect x="951" y="532" width="132" height="42" rx="6"/><text x="1017" y="549"><tspan x="1017">Los condicionantes</tspan><tspan x="1017" dy="14.3">de la programación</tspan></text></g>
<g id="n72" class="n"><rect x="1157" y="501" width="92" height="38" rx="6"/><text x="1203" y="516.8"><tspan x="1203">Tendencia a</tspan><tspan x="1203" dy="14.5">la violencia</tspan></text></g>
<g id="n73" class="n"><rect x="1309" y="489" width="278" height="72" rx="6"/><text x="1448" y="506.1"><tspan x="1448">Primacía de la acción sobre la meditación y</tspan><tspan x="1448" dy="14.67">la reflexión, para captar la atención del</tspan><tspan x="1448" dy="14.67">espectador, dado que el límite visual es</tspan><tspan x="1448" dy="14.67">menor. Lo que conlleva a la violencia</tspan></text></g>
<g id="n74" class="n"><rect x="1165" y="557" width="88" height="38" rx="6"/><text x="1209" y="572.7"><tspan x="1209">Tendencia</tspan><tspan x="1209" dy="14.9">Consumista</tspan></text></g>
<g id="n75" class="n"><rect x="1299" y="580" width="315" height="57" rx="6"/><text x="1456.5" y="597.9"><tspan x="1456.5">Incitan a comprar productos gracias a los valores</tspan><tspan x="1456.5" dy="14.55">sociales que adjudican a los objetos y el efecto</tspan><tspan x="1456.5" dy="14.55">manipulador aumenta (Jabón Le Sancy es amor)</tspan></text></g>
<g id="n76" class="n"><rect x="1110" y="618" width="81" height="42" rx="6"/><text x="1150.5" y="634.7"><tspan x="1150.5">Tendencia</tspan><tspan x="1150.5" dy="14.9">oligárquica</tspan></text></g>
<g id="n77" class="n"><rect x="1051" y="676" width="304" height="42" rx="6"/><text x="1203" y="693.6"><tspan x="1203">Sólo deciden sobre la T.V quienes monopolizan</tspan><tspan x="1203" dy="14.6">el medio y vetan al resto de la comunidad</tspan></text></g>
<g id="n78" class="n"><rect x="1517" y="265" width="145" height="114" rx="6"/><text x="1589.5" y="280.8"><tspan x="1589.5">Que nadie sepa ni</tspan><tspan x="1589.5" dy="14.58">entinenda el</tspan><tspan x="1589.5" dy="14.58">conocimiento acadé-</tspan><tspan x="1589.5" dy="14.58">mico. Sesgar la</tspan><tspan x="1589.5" dy="14.58">información y no</tspan><tspan x="1589.5" dy="14.58">permitir que todos</tspan><tspan x="1589.5" dy="14.58">tengan acceso a ella</tspan></text></g>
<g id="n79" class="n"><rect x="1513" y="400" width="159" height="26" rx="6"/><text x="1592.5" y="415.8">Comunicar es rebajarse</text></g>
<g id="n80" class="n"><rect x="1682" y="260" width="111" height="98" rx="6"/><text x="1737.5" y="277.2"><tspan x="1737.5">No hay creati-</tspan><tspan x="1737.5" dy="14.5">vidad en el</tspan><tspan x="1737.5" dy="14.5">cuerpo docente</tspan><tspan x="1737.5" dy="14.5">al momento de</tspan><tspan x="1737.5" dy="14.5">enseñar</tspan><tspan x="1737.5" dy="14.5">conocimientos</tspan></text></g>
<g id="n81" class="n"><rect x="1693" y="389" width="79" height="56" rx="6"/><text x="1732.5" y="405.8"><tspan x="1732.5">Falta de</tspan><tspan x="1732.5" dy="14.65">sentido</tspan><tspan x="1732.5" dy="14.65">de imagen</tspan></text></g>
<g id="n82" class="n"><rect x="1811" y="211" width="81" height="171" rx="6"/><text x="1851.5" y="228.3"><tspan x="1851.5">No hay</tspan><tspan x="1851.5" dy="14.53">capacidad</tspan><tspan x="1851.5" dy="14.53">de síntesis</tspan><tspan x="1851.5" dy="14.53">dado que,</tspan><tspan x="1851.5" dy="14.53">docentes</tspan><tspan x="1851.5" dy="14.53">están</tspan><tspan x="1851.5" dy="14.53">acostum-</tspan><tspan x="1851.5" dy="14.53">brados a</tspan><tspan x="1851.5" dy="14.53">las dos</tspan><tspan x="1851.5" dy="14.53">horas de</tspan><tspan x="1851.5" dy="14.53">clases</tspan></text></g>
<g id="n83" class="n"><rect x="1802" y="395" width="79" height="43" rx="6"/><text x="1841.5" y="412.6"><tspan x="1841.5">Sentido</tspan><tspan x="1841.5" dy="15">del tiempo</tspan></text></g>
<g id="n84" class="n"><rect x="1904" y="317" width="157" height="84" rx="6"/><text x="1982.5" y="332.6"><tspan x="1982.5">Mundo intelectual</tspan><tspan x="1982.5" dy="14.6">muy serio y sin humor.</tspan><tspan x="1982.5" dy="14.6">En la tele es clave</tspan><tspan x="1982.5" dy="14.6">la cercanía y humor</tspan><tspan x="1982.5" dy="14.6">con los espectadores</tspan></text></g>
<g id="n85" class="n"><rect x="1933" y="426" width="106" height="24" rx="6"/><text x="1986" y="441.9">Falta de humor</text></g>
<g id="n86" class="n"><rect x="1931" y="465" width="108" height="26" rx="6"/><text x="1985" y="480.8">Impersonalidad</text></g>
<g id="n87" class="n"><rect x="1635" y="518" width="198" height="99" rx="6"/><text x="1734" y="535.8"><tspan x="1734">La alta cultura no interesa</tspan><tspan x="1734" dy="14.56">a la audiencia. Los directivos</tspan><tspan x="1734" dy="14.56">creen que si el nivel educativo</tspan><tspan x="1734" dy="14.56">sube, la sintonía baja. Un</tspan><tspan x="1734" dy="14.56">programa educativo hay que</tspan><tspan x="1734" dy="14.56">saber hacerlo.</tspan></text></g>
<g id="n88" class="n"><rect x="1864" y="507" width="240" height="70" rx="6"/><text x="1984" y="524"><tspan x="1984">Aprender a usar el medio audiovisual</tspan><tspan x="1984" dy="14.63">para lograr cercanía con la gente,</tspan><tspan x="1984" dy="14.63">mostrar rostros y no generalizar con</tspan><tspan x="1984" dy="14.63">instituciones, proyectos, etc.</tspan></text></g>
<g id="n89" class="n"><rect x="1677" y="644" width="127" height="54" rx="6"/><text x="1740.5" y="660.4"><tspan x="1740.5">El académico</tspan><tspan x="1740.5" dy="14.5">visto por la gente</tspan><tspan x="1740.5" dy="14.5">de televisión</tspan></text></g>
<g id="n90" class="n"><rect x="1567" y="713" width="103" height="38" rx="6"/><text x="1618.5" y="729"><tspan x="1618.5">La alta cultura</tspan><tspan x="1618.5" dy="14.3">en la T.V.</tspan></text></g>
<g id="n91" class="n"><rect x="1726" y="712" width="79" height="38" rx="6"/><text x="1765.5" y="727.7"><tspan x="1765.5">Programa</tspan><tspan x="1765.5" dy="14.3">cultural</tspan></text></g>
<g id="n92" class="n"><rect x="1573" y="778" width="94" height="38" rx="6"/><text x="1620" y="793.6"><tspan x="1620">La entrevista</tspan><tspan x="1620" dy="14.3">al sabio</tspan></text></g>
<g id="n93" class="n"><rect x="1513" y="836" width="213" height="141" rx="6"/><text x="1619.5" y="852.6"><tspan x="1619.5">El problema recae en no</tspan><tspan x="1619.5" dy="14.64">poder explicar sobre su trabajo,</tspan><tspan x="1619.5" dy="14.64">lo importante de la entrevista es</tspan><tspan x="1619.5" dy="14.64">la impresión que genera al</tspan><tspan x="1619.5" dy="14.64">público. Se antepone la emoción</tspan><tspan x="1619.5" dy="14.64">y la aparencia sobre la razón. La</tspan><tspan x="1619.5" dy="14.64">entrevista pierde el objetivo y</tspan><tspan x="1619.5" dy="14.64">las preguntas empiezan a desta-</tspan><tspan x="1619.5" dy="14.64">car situaciones banales</tspan></text></g>
<g id="n94" class="n"><rect x="1743" y="815" width="203" height="144" rx="6"/><text x="1844.5" y="832.6"><tspan x="1844.5">Debería darse programas</tspan><tspan x="1844.5" dy="14.59">culturales durante los días</tspan><tspan x="1844.5" dy="14.59">de la semana para promover</tspan><tspan x="1844.5" dy="14.59">la reflexión y el conocimiento,</tspan><tspan x="1844.5" dy="14.59">pero sólo se consiguió hacer</tspan><tspan x="1844.5" dy="14.59">seudos programas culturales</tspan><tspan x="1844.5" dy="14.59">y los fines de semana, horario</tspan><tspan x="1844.5" dy="14.59">ideal para dejar programas de</tspan><tspan x="1844.5" dy="14.59">entretención y no culturales</tspan></text></g>
<g id="n95" class="n"><rect x="1602" y="1005" width="90" height="42" rx="6"/><text x="1647" y="1021.7"><tspan x="1647">La meta del</tspan><tspan x="1647" dy="14.8">programa</tspan></text></g>
<g id="n96" class="n"><rect x="1565" y="1134" width="154" height="156" rx="6"/><text x="1642" y="1151.4"><tspan x="1642">Sólo importa el rating</tspan><tspan x="1642" dy="14.54">porque a más</tspan><tspan x="1642" dy="14.54">sintonía más dinero.</tspan><tspan x="1642" dy="14.54">Si el rating es bajo, el</tspan><tspan x="1642" dy="14.54">programa se saca del</tspan><tspan x="1642" dy="14.54">aire. Por lo tanto, la</tspan><tspan x="1642" dy="14.54">opinión de las minorías</tspan><tspan x="1642" dy="14.54">no importa. Respetar a</tspan><tspan x="1642" dy="14.54">las minorías es algo</tspan><tspan x="1642" dy="14.54">esencial en demoracia</tspan></text></g>
<g id="n97" class="n"><rect x="1204" y="771" width="136" height="26" rx="6"/><text x="1272" y="788.3">Fuerzas económicas</text></g>
<g id="n98" class="n"><rect x="1385" y="662" width="96" height="54" rx="6"/><text x="1433" y="678.7"><tspan x="1433">Empresas de</tspan><tspan x="1433" dy="14.5">productos y</tspan><tspan x="1433" dy="14.5">servicios</tspan></text></g>
<g id="n99" class="n"><rect x="1390" y="732" width="63" height="28" rx="6"/><text x="1421.5" y="749.7">Religión</text></g>
<g id="n100" class="n"><rect x="1395" y="770" width="58" height="27" rx="6"/><text x="1424" y="788">Política</text></g>
<g id="n101" class="n"><rect x="1117" y="846" width="80" height="56" rx="6"/><text x="1157" y="863"><tspan x="1157">Es barata,</tspan><tspan x="1157" dy="14.5">mirar T.V.</tspan><tspan x="1157" dy="14.5">es gratis</tspan></text></g>
<g id="n102" class="n"><rect x="1221" y="875" width="96" height="100" rx="6"/><text x="1269" y="891.7"><tspan x="1269">Sólo se paga</tspan><tspan x="1269" dy="14.52">el aparto y</tspan><tspan x="1269" dy="14.52">la pequeña</tspan><tspan x="1269" dy="14.52">cantidad</tspan><tspan x="1269" dy="14.52">eléctrica</tspan><tspan x="1269" dy="14.52">ocupada</tspan></text></g>
<g id="n103" class="n"><rect x="1332" y="860" width="143" height="99" rx="6"/><text x="1403.5" y="878"><tspan x="1403.5">Como los gastos de</tspan><tspan x="1403.5" dy="14.46">la T.V. los paga el</tspan><tspan x="1403.5" dy="14.46">fisco, los avisadores,</tspan><tspan x="1403.5" dy="14.46">las universidades, no</tspan><tspan x="1403.5" dy="14.46">tenemos derechos</tspan><tspan x="1403.5" dy="14.46">frente a esta</tspan></text></g>
<g id="n104" class="n"><rect x="1336" y="1008" width="135" height="30" rx="6"/><text class="b" x="1403.5" y="1027.2">La publicidad</text></g>
<g id="n105" class="n"><rect x="1298" y="1059" width="211" height="42" rx="6"/><text x="1403.5" y="1076"><tspan x="1403.5">Intercalar objetos de consumo y</tspan><tspan x="1403.5" dy="14.7">cobrar por ponerlos en la T.V.</tspan></text></g>
<g id="n106" class="n"><rect x="1274" y="1167" width="110" height="85" rx="6"/><text x="1329" y="1185.7"><tspan x="1329">Interrupción</tspan><tspan x="1329" dy="14.5">violenta de la</tspan><tspan x="1329" dy="14.5">programación</tspan><tspan x="1329" dy="14.5">para transmitir</tspan><tspan x="1329" dy="14.5">comercales</tspan></text></g>
<g id="n107" class="n"><rect x="1392" y="1199" width="126" height="84" rx="6"/><text x="1455" y="1216.7"><tspan x="1455">Mínimo de respeto</tspan><tspan x="1455" dy="14.5">al televidente,</tspan><tspan x="1455" dy="14.5">avisándole la</tspan><tspan x="1455" dy="14.5">entrada de los</tspan><tspan x="1455" dy="14.5">comerciales</tspan></text></g>
<g id="n108" class="n"><rect x="1269" y="1349" width="290" height="56" rx="6"/><text x="1414" y="1366"><tspan x="1414">Le asigna poderes mágicos y sobrenaturales</tspan><tspan x="1414" dy="14.5">a los productos. El dios en esta situación es</tspan><tspan x="1414" dy="14.5">el dinero. Todo esto generado en la televisión</tspan></text></g>
</g>
</svg>
